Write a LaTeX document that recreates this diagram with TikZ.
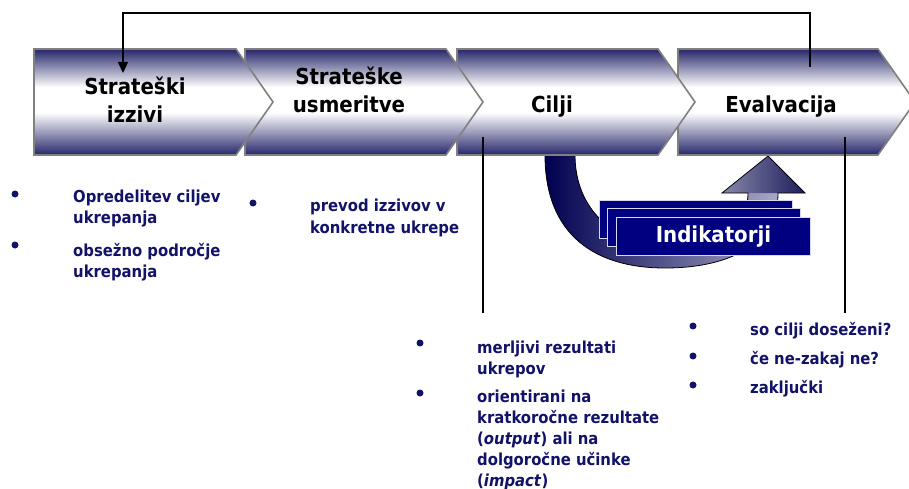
\documentclass[tikz,border=0pt]{standalone}
\usepackage{fontspec}
\setmainfont{DejaVu Sans Condensed}
\usetikzlibrary{arrows.meta}

\definecolor{chnavy}{RGB}{38,38,106}
\definecolor{chedge}{RGB}{128,128,128}
\definecolor{txtnavy}{RGB}{18,18,104}
\definecolor{arrdark}{RGB}{0,0,80}
\definecolor{arrlight}{RGB}{168,168,198}
\definecolor{headlight}{RGB}{135,135,170}
\definecolor{headdark}{RGB}{30,30,92}
\definecolor{boxfill}{RGB}{0,0,128}
\definecolor{boxedge}{RGB}{215,215,238}

% vertical band: navy at the edges, a broad white band a little above the middle
\pgfdeclareverticalshading{chevband}{100bp}{%
  color(0bp)=(chnavy); color(25bp)=(chnavy); color(45bp)=(white);
  color(57bp)=(white); color(75bp)=(chnavy); color(100bp)=(chnavy)}

\tikzset{
  chevron/.style={draw=chedge, line width=1.6pt, shading=chevband},
  chevlabel/.style={align=center, inner sep=0, anchor=base,
    font=\fontsize{22}{28}\selectfont\bfseries, text=black},
  % multi-line texts are placed by the baseline of their last line
  listtext/.style={anchor=base west, align=left, inner sep=0, text=txtnavy,
    font=\fontsize{16.5}{21}\selectfont\bfseries},
  bullet/.style={circle, fill=txtnavy, inner sep=0, minimum size=7pt},
  indbox/.style={draw=boxedge, fill=boxfill, line width=1pt, inner sep=0,
    anchor=north west},
  link/.style={draw=black, line width=1.3pt},
}

% one chevron: left x, right x of the straight part
\newcommand{\chevshape}[2]{%
  \shade[chevron] (#1,49) -- (#2,49) -- ({#2+37},102) -- (#2,155) -- (#1,155) -- cycle;}

\begin{document}
\begin{tikzpicture}[x=1pt,y=-1pt]
\useasboundingbox (0,0) rectangle (909,489);

% ---- curved arrow feeding the indicators back into the evaluation ----
\shade[left color=arrdark, right color=arrlight]
  (545,150) -- (545,155) .. controls (545,235) and (595,268) .. (665,268)
  .. controls (735,268) and (778,240) .. (778,193) -- (748,193)
  .. controls (748,225) and (715,245) .. (668,245)
  .. controls (615,245) and (575,210) .. (575,155) -- (575,150) -- cycle;
\shade[left color=headlight, right color=headdark]
  (722,193) -- (768,156) -- (805,193) -- cycle;
\draw[black, line width=0.8pt]
  (545,150) -- (545,155) .. controls (545,235) and (595,268) .. (665,268)
  .. controls (735,268) and (778,240) .. (778,193) -- (805,193)
  -- (768,156) -- (722,193) -- (748,193)
  .. controls (748,225) and (715,245) .. (668,245)
  .. controls (615,245) and (575,210) .. (575,155) -- (575,150);

% ---- process chevrons, drawn right to left so each tip overlaps ----
\chevshape{678}{878}
\chevshape{457}{658}
\chevshape{245}{446}
\chevshape{34}{236}

\node[chevlabel] (izzivi) at (135,123) {Strateški\\izzivi};
\node[chevlabel] (usmeritve) at (349,113) {Strateške\\usmeritve};
\node[chevlabel] (cilji) at (552,113) {Cilji};
\node[chevlabel] (evalvacija) at (781,113) {Evalvacija};

% ---- feedback loop from evaluation back to the challenges ----
\coordinate (fbout) at (810,67);
\coordinate (fbin) at (123,73);
\draw[link, -{Triangle[length=11pt,width=10pt]}]
  (fbout) -- (fbout |- 0,13) -- (fbin |- 0,13) -- (fbin);

% ---- drop lines to the lists ----
\coordinate (ciljitop) at (483,137);
\coordinate (ciljibot) at (483,313);
\coordinate (evaltop) at (845,137);
\coordinate (evalbot) at (845,313);
\draw[link, line width=1.2pt] (ciljitop) -- (ciljibot);
\draw[link, line width=1.2pt] (evaltop) -- (evalbot);

% ---- indicator cards ----
\node[indbox, minimum width=193pt, minimum height=38pt] (card1) at (599,200) {};
\node[indbox, minimum width=193pt, minimum height=38pt] (card2) at (607,208) {};
\node[indbox, minimum width=194pt, minimum height=38pt,
  font=\fontsize{22}{26}\selectfont\bfseries, text=white] (card3) at (616,217)
  {\makebox[194pt]{\raisebox{-2pt}{Indikatorji}}};

% ---- bullet lists ----
\node[bullet] (ba1) at (15,194) {};
\node[listtext] (ta1) at (73,223) {Opredelitev ciljev\\ukrepanja};
\node[bullet] (ba2) at (15,245) {};
\node[listtext] (ta2) at (73,277) {obsežno področje\\ukrepanja};

\node[bullet] (bb1) at (253,203) {};
\node[listtext] (tb1) at (310,233) {prevod izzivov v\\konkretne ukrepe};

\node[bullet] (bc1) at (420,343) {};
\node[listtext] (tc1) at (477,374) {merljivi rezultati\\ukrepov};
\node[bullet] (bc2) at (420,393) {};
\node[listtext] (tc2) at (477,486)
  {orientirani na\\kratkoročne rezultate\\(\textit{output}) ali na\\dolgoročne učinke\\(\textit{impact})};

\node[bullet] (bd1) at (693,326) {};
\node[listtext] (td1) at (750,335) {so cilji doseženi?};
\node[bullet] (bd2) at (693,356) {};
\node[listtext] (td2) at (750,364) {če ne-zakaj ne?};
\node[bullet] (bd3) at (693,385) {};
\node[listtext] (td3) at (750,393) {zaključki};
\end{tikzpicture}
\end{document}
